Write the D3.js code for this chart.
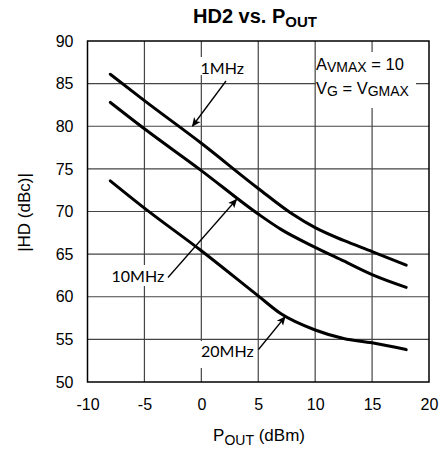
<!DOCTYPE html>
<html><head><meta charset="utf-8">
<script src="https://cdn.jsdelivr.net/npm/d3@7"></script>
<style>html,body{margin:0;padding:0;background:#fff;}svg{display:block;}</style>
</head><body>
<script>
const pout = [-8, -5, 0, 5, 8, 10, 12.5, 15, 18];
const hd1MHz  = [86.1, 83.0, 78.0, 72.7, 69.7, 68.1, 66.6, 65.3, 63.7];
const pout10 = [-8, -5, 0, 5, 7, 10, 12.5, 15, 18];
const hd10MHz = [82.8, 79.7, 74.8, 69.7, 67.9, 65.8, 64.2, 62.6, 61.1];
const hd20MHz = [73.6, 70.4, 65.4, 60.1, 58.0, 56.1, 55.1, 54.6, 53.8];
const xTicks = [-10, -5, 0, 5, 10, 15, 20];
const yTicks = [50, 55, 60, 65, 70, 75, 80, 85, 90];

const W = 441, H = 451;
const svg = d3.select("body").append("svg").attr("width", W).attr("height", H);
const x = d3.scaleLinear().domain([-10, 20]).range([87.5, 429]);
const y = d3.scaleLinear().domain([50, 90]).range([382, 41]);

// grid
const g = svg.append("g");
g.selectAll("line.v").data(xTicks.slice(1, -1)).join("line")
  .attr("x1", d => x(d)).attr("x2", d => x(d)).attr("y1", y(90)).attr("y2", y(50))
  .attr("stroke", "#444").attr("stroke-width", 1.2);
g.selectAll("line.h").data(yTicks.slice(1, -1)).join("line")
  .attr("y1", d => y(d)).attr("y2", d => y(d)).attr("x1", x(-10)).attr("x2", x(20))
  .attr("stroke", "#444").attr("stroke-width", 1.2);

// white label boxes (hide gridlines)
const boxes = [[199, 57, 44, 18], [109, 265, 53, 21], [199, 341, 53, 27], [316, 52, 100, 56]];
svg.selectAll("rect.bx").data(boxes).join("rect")
  .attr("x", d => d[0]).attr("y", d => d[1]).attr("width", d => d[2]).attr("height", d => d[3])
  .attr("fill", "#fff");

// border
svg.append("rect").attr("x", x(-10)).attr("y", y(90)).attr("width", x(20) - x(-10)).attr("height", y(50) - y(90))
  .attr("fill", "none").attr("stroke", "#000").attr("stroke-width", 1.5);

// axes tick labels
const xAxis = d3.axisBottom(x).tickValues(xTicks).tickFormat(d => String(d)).tickSize(0).tickPadding(0);
const ax = svg.append("g").attr("transform", `translate(0,${y(50)})`).call(xAxis);
ax.select(".domain").remove();
ax.selectAll("text").attr("dy", null).attr("y", 28).attr("font-family", "Liberation Sans, Arial, sans-serif")
  .attr("font-size", 16).attr("fill", "#000");
const yAxis = d3.axisLeft(y).tickValues(yTicks).tickFormat(d => String(d)).tickSize(0).tickPadding(14);
const ay = svg.append("g").attr("transform", `translate(${x(-10)},0)`).call(yAxis);
ay.select(".domain").remove();
ay.selectAll("text").attr("font-family", "Liberation Sans, Arial, sans-serif")
  .attr("font-size", 16).attr("fill", "#000");

// curves
const line = d3.line().curve(d3.curveMonotoneX).x(d => x(d[0])).y(d => y(d[1]));
const series = [d3.zip(pout, hd1MHz), d3.zip(pout10, hd10MHz), d3.zip(pout10, hd20MHz)];
svg.selectAll("path.s").data(series).join("path")
  .attr("d", line).attr("fill", "none").attr("stroke", "#000").attr("stroke-width", 3).attr("stroke-linecap", "round");

// arrows
svg.append("defs").append("marker").attr("id", "ah").attr("viewBox", "0 0 10 10")
  .attr("refX", 9).attr("refY", 5).attr("markerWidth", 9).attr("markerHeight", 9)
  .attr("markerUnits", "userSpaceOnUse").attr("orient", "auto")
  .append("path").attr("d", "M0,0.5 L10,5 L0,9.5 L2.5,5 Z").attr("fill", "#000");
const arrows = [[226, 81, 192.5, 126], [168, 277.5, 236.5, 199.5], [258.5, 349.5, 285, 317]];
svg.selectAll("line.ar").data(arrows).join("line")
  .attr("x1", d => d[0]).attr("y1", d => d[1]).attr("x2", d => d[2]).attr("y2", d => d[3])
  .attr("stroke", "#000").attr("stroke-width", 1.3).attr("marker-end", "url(#ah)");

// curve labels
const labF = "Lato, 'Open Sans', sans-serif";
const labels = [["1MHz", 200.5, 73.5], ["10MHz", 111.5, 281.5], ["20MHz", 201, 356.5]];
svg.selectAll("text.lab").data(labels).join("text")
  .attr("x", d => d[1]).attr("y", d => d[2]).text(d => d[0])
  .attr("font-family", labF).attr("font-size", 16).attr("fill", "#000");

const F = "Liberation Sans, Arial, sans-serif";
// condition box text
const t1 = svg.append("text").attr("x", 316).attr("y", 69.5).attr("font-family", F).attr("font-size", 16.5);
t1.append("tspan").text("A");
t1.append("tspan").attr("dy", 2).attr("font-size", 14).text("VMAX");
t1.append("tspan").attr("dy", -2).text(" = 10");
const t2 = svg.append("text").attr("x", 316).attr("y", 94).attr("font-family", F).attr("font-size", 16.5);
t2.append("tspan").text("V");
t2.append("tspan").attr("dy", 2).attr("font-size", 14).text("G");
t2.append("tspan").attr("dy", -2).text(" = V");
t2.append("tspan").attr("dy", 2).attr("font-size", 14).text("GMAX");

// title
const tt = svg.append("text").attr("x", 255).attr("y", 23.3).attr("text-anchor", "middle")
  .attr("font-family", F).attr("font-size", 20).attr("font-weight", "bold");
tt.append("tspan").text("HD2 vs. P");
tt.append("tspan").attr("dy", 3.5).attr("font-size", 15).text("OUT");

// x label
const xl = svg.append("text").attr("x", 259).attr("y", 441).attr("text-anchor", "middle")
  .attr("font-family", F).attr("font-size", 17);
xl.append("tspan").text("P");
xl.append("tspan").attr("dy", 4).attr("font-size", 14).text("OUT");
xl.append("tspan").attr("dy", -4).text(" (dBm)");

// y label
svg.append("text").attr("transform", "translate(30,212.5) rotate(-90)").attr("text-anchor", "middle")
  .attr("font-family", F).attr("font-size", 17).text("|HD (dBc)|");
</script>
</body></html>
